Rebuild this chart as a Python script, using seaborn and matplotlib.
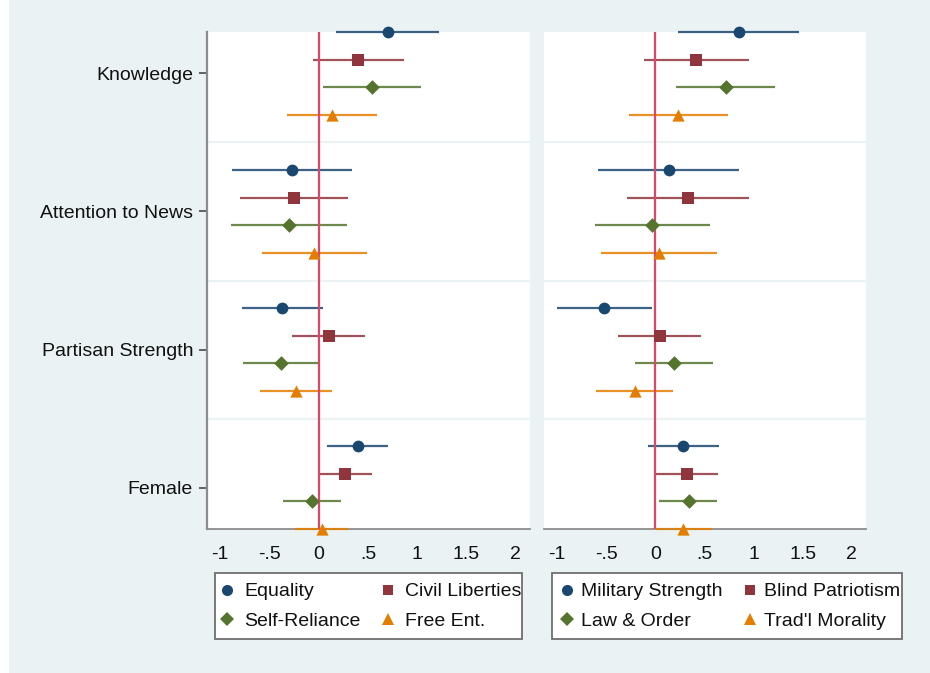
import matplotlib
matplotlib.use("Agg")
import matplotlib.pyplot as plt
import pandas as pd
import seaborn as sns
from matplotlib.lines import Line2D
from matplotlib.patches import Rectangle

# ---- data -------------------------------------------------------------
predictors = ["Knowledge", "Attention to News", "Partisan Strength", "Female"]

left_series = ["Equality", "Civil Liberties", "Self-Reliance", "Free Ent."]
right_series = ["Military Strength", "Blind Patriotism", "Law & Order", "Trad'l Morality"]

# estimates and 95% bounds, listed in predictor order
equality_est = [0.70, -0.27, -0.37, 0.40]
equality_lo = [0.175, -0.885, -0.78, 0.086]
equality_hi = [1.22, 0.337, 0.046, 0.706]

civlib_est = [0.40, -0.25, 0.10, 0.262]
civlib_lo = [-0.06, -0.80, -0.27, -0.012]
civlib_hi = [0.87, 0.293, 0.47, 0.54]

selfrel_est = [0.543, -0.306, -0.38, -0.07]
selfrel_lo = [0.046, -0.89, -0.77, -0.364]
selfrel_hi = [1.037, 0.286, 0.008, 0.225]

freeent_est = [0.13, -0.046, -0.23, 0.03]
freeent_lo = [-0.32, -0.577, -0.594, -0.24]
freeent_hi = [0.587, 0.486, 0.13, 0.30]

military_est = [0.847, 0.136, -0.52, 0.282]
military_lo = [0.23, -0.58, -1.004, -0.08]
military_hi = [1.46, 0.853, -0.03, 0.65]

blindpat_est = [0.414, 0.333, 0.044, 0.323]
blindpat_lo = [-0.12, -0.29, -0.38, 0.003]
blindpat_hi = [0.95, 0.952, 0.46, 0.64]

laworder_est = [0.714, -0.034, 0.187, 0.337]
laworder_lo = [0.207, -0.62, -0.21, 0.034]
laworder_hi = [1.217, 0.557, 0.588, 0.63]

tradmor_est = [0.235, 0.037, -0.21, 0.282]
tradmor_lo = [-0.27, -0.55, -0.606, 0.003]
tradmor_hi = [0.738, 0.625, 0.177, 0.58]

xtick_values = [-1, -0.5, 0, 0.5, 1, 1.5, 2]
xtick_labels = ["-1", "-.5", "0", ".5", "1", "1.5", "2"]

# ---- styling ----------------------------------------------------------
sns.set_style("white")
plt.rcParams["font.family"] = ["Liberation Sans", "DejaVu Sans"]

BG = "#eaf2f3"
colors = ["#1a476f", "#90353b", "#55752f", "#e37e00"]
markers = ["o", "s", "D", "^"]
msizes = [72, 64, 56, 78]
leg_ms = [8, 7.5, 7.5, 8.5]
ZERO = "#d9476d"
AXIS = "#8c8c8c"
W, H = 930, 673


def build_frame(names, est, lo, hi):
    rows = []
    for s, name in enumerate(names):
        for g, pred in enumerate(predictors):
            rows.append(dict(series=name, predictor=pred, sidx=s,
                             pos=g * 5 + s, est=est[s][g], lo=lo[s][g], hi=hi[s][g]))
    return pd.DataFrame(rows)


left_df = build_frame(
    left_series,
    [equality_est, civlib_est, selfrel_est, freeent_est],
    [equality_lo, civlib_lo, selfrel_lo, freeent_lo],
    [equality_hi, civlib_hi, selfrel_hi, freeent_hi],
)
right_df = build_frame(
    right_series,
    [military_est, blindpat_est, laworder_est, tradmor_est],
    [military_lo, blindpat_lo, laworder_lo, tradmor_lo],
    [military_hi, blindpat_hi, laworder_hi, tradmor_hi],
)

fig = plt.figure(figsize=(W / 100, H / 100), dpi=100, facecolor="white")
fig.patches.append(Rectangle((9 / W, 0), 1, 1, transform=fig.transFigure,
                             facecolor=BG, edgecolor="none", zorder=-10))

ax_l = fig.add_axes([207 / W, 1 - 529 / H, 323 / W, 497 / H])
ax_r = fig.add_axes([544 / W, 1 - 529 / H, 322 / W, 497 / H])

group_centers = [g * 5 + 1.5 for g in range(len(predictors))]
separators = [g * 5 + 4 for g in range(len(predictors) - 1)]


def draw_panel(ax, df, names, show_y):
    ax.set_facecolor("white")
    for y in separators:
        ax.axhline(y, color=BG, lw=1.6, zorder=0.5)
    for s, name in enumerate(names):
        sub = df[df.series == name]
        ax.hlines(sub.pos, sub.lo, sub.hi, color=colors[s], lw=1.6,
                  alpha=0.85, zorder=2.6, clip_on=False)
    ax.axvline(0, color=ZERO, lw=1.6, zorder=2.8)
    for s, name in enumerate(names):
        sub = df[df.series == name]
        sns.scatterplot(data=sub, x="est", y="pos", ax=ax, color=colors[s],
                        marker=markers[s], s=msizes[s], linewidth=0,
                        zorder=4, clip_on=False, legend=False)
    ax.set_xlim(-1.135, 2.145)
    ax.set_ylim(18, 0)
    ax.set_xlabel("")
    ax.set_ylabel("")
    ax.set_xticks(xtick_values)
    ax.set_xticklabels(xtick_labels, fontsize=14, color="#111111")
    ax.tick_params(axis="x", length=6, width=1.3, color="#555555", pad=6)
    for side in ["top", "right"]:
        ax.spines[side].set_visible(False)
    ax.spines["bottom"].set_color(AXIS)
    ax.spines["bottom"].set_linewidth(1.3)
    ax.spines["bottom"].set_zorder(2.4)
    if show_y:
        ax.set_yticks(group_centers)
        ax.set_yticklabels(predictors, fontsize=14, color="#111111")
        ax.tick_params(axis="y", length=6, width=1.3, color="#555555", pad=4,
                       left=True)
        ax.spines["left"].set_color(AXIS)
        ax.spines["left"].set_linewidth(1.6)
    else:
        ax.set_yticks([])
        ax.spines["left"].set_visible(False)


draw_panel(ax_l, left_df, left_series, True)
draw_panel(ax_r, right_df, right_series, False)


def add_legend(names, x0, x1, y0, y1, handlelength, textpad, colspace):
    # fixed-size white key box; long labels may run past its right edge
    fig.patches.append(Rectangle((x0 / W, 1 - y1 / H), (x1 - x0) / W, (y1 - y0) / H,
                                 transform=fig.transFigure, facecolor="white",
                                 edgecolor="#6e6e6e", linewidth=1.3, zorder=4))
    # two columns filled row by row
    order = [0, 2, 1, 3]
    handles = [Line2D([], [], linestyle="none", marker=markers[i], color=colors[i],
                      markersize=leg_ms[i], markeredgewidth=0)
               for i in order]
    labels = [names[i] for i in order]
    leg = fig.legend(handles, labels, ncol=2, loc="upper left",
                     bbox_to_anchor=(x0 / W, 1 - y0 / H),
                     bbox_transform=fig.transFigure,
                     fontsize=14, frameon=False,
                     handlelength=handlelength, handletextpad=textpad,
                     borderaxespad=0, borderpad=0.5, labelspacing=0.6,
                     columnspacing=colspace)
    leg.set_zorder(5)
    for t in leg.get_texts():
        t.set_color("#111111")
    return leg


add_legend(left_series, 215, 522, 573, 639, 0.24, 0.76, 1.3)
add_legend(right_series, 552, 902, 573, 639, 0.55, 0.45, 1.15)

fig.savefig("out.png", dpi=100, facecolor=fig.get_facecolor())
